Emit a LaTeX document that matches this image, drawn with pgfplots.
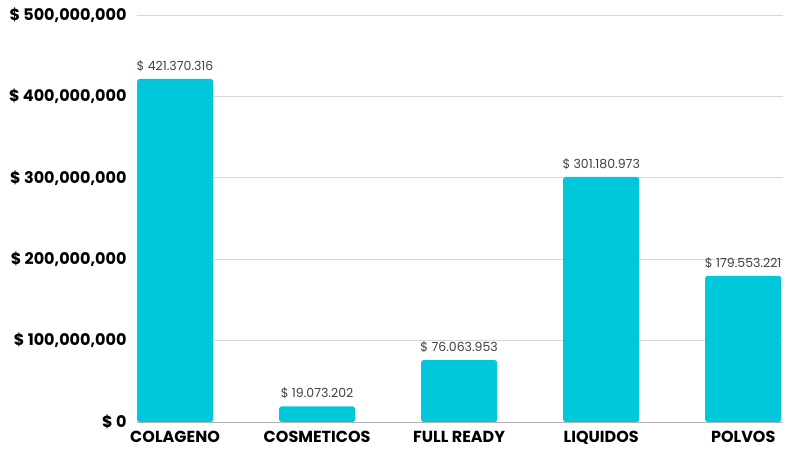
\documentclass[border=0pt]{standalone}
\usepackage{fontspec}
\setmainfont{Poppins}
\usepackage{pgfplots}
\pgfplotsset{compat=1.18}
\definecolor{barc}{HTML}{00C8DA}
\begin{document}
\begin{tikzpicture}[x=1pt,y=1pt]
\useasboundingbox (-137,-27) rectangle (650,422);
\begin{axis}[
  at={(0,0)}, anchor=south west,
  scale only axis, width=646pt, height=407pt,
  xmin=-0.268, xmax=4.28,
  ymin=0, ymax=500000000,
  scaled y ticks=false,
  ytick={0,100000000,200000000,300000000,400000000,500000000},
  yticklabels={\$ 0,\$ 100{,}000{,}000,\$ 200{,}000{,}000,\$ 300{,}000{,}000,\$ 400{,}000{,}000,\$ 500{,}000{,}000},
  xtick={0,1,2,3,4},
  xticklabels={COLAGENO,COSMETICOS,FULL READY,LIQUIDOS,POLVOS},
  /pgf/number format/assume math mode=true,
  ticklabel style={font=\fontsize{16}{17}\selectfont\bfseries, text=black},
  yticklabel style={xshift=-7pt},
  xticklabel style={yshift=-6pt},
  major tick length=0pt,
  ymajorgrids, grid style={gray!30, line width=0.6pt},
  axis x line*=bottom, axis y line*=left,
  y axis line style={draw=none},
  x axis line style={gray!60, line width=0.8pt, -},
  ybar, bar width=76pt,
  bar shift=0pt,
  point meta=explicit symbolic,
  nodes near coords={\$ \pgfplotspointmeta},
  nodes near coords style={font=\fontsize{12.5}{14}\selectfont, text=black!75, yshift=4pt},
  clip=false,
]
\addplot[fill=barc, draw=none, rounded corners=2.5pt] coordinates {
  (0,421370316) [421.370.316]
  (1,19073202) [19.073.202]
  (2,76063953) [76.063.953]
  (3,301180973) [301.180.973]
  (4,179553221) [179.553.221]
};
\end{axis}
\end{tikzpicture}
\end{document}
